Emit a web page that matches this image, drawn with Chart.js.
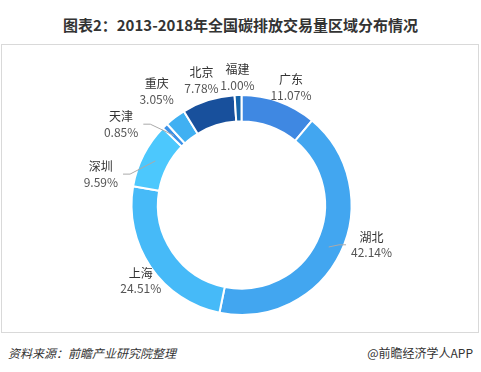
<!DOCTYPE html>
<html>
<head>
<meta charset="utf-8">
<script src="https://cdn.jsdelivr.net/npm/chart.js@4.4.0/dist/chart.umd.min.js"></script>
<style>
  html, body { margin: 0; padding: 0; background: #fff; }
  body { width: 481px; height: 372px; position: relative; overflow: hidden;
         font-family: "Noto Sans CJK SC", "Noto Sans", sans-serif; }
  #title { position: absolute; left: 0; top: 13px; width: 481px; text-align: center;
           font-size: 15px; font-weight: bold; color: #333; line-height: 24px; }
  #box { position: absolute; left: 1px; top: 44px; width: 476px; height: 287px;
         border: 1px solid #d9d9d9; }
  #box canvas { position: absolute; left: -1px; top: 0; }
  #source { position: absolute; left: 8px; top: 344px; font-size: 12px; font-style: italic; color: #333; }
  #brand { position: absolute; right: 8px; top: 344px; font-size: 12px; color: #333; }
</style>
</head>
<body>
<div id="title">图表2：2013-2018年全国碳排放交易量区域分布情况</div>
<div id="box"><canvas id="myChart" width="481" height="287"></canvas></div>
<div id="source">资料来源：前瞻产业研究院整理</div>
<div id="brand">@前瞻经济学人APP</div>
<script>
var regions = ['广东', '湖北', '上海', '深圳', '天津', '重庆', '北京', '福建'];
var shares = [11.07, 42.14, 24.51, 9.59, 0.85, 3.05, 7.78, 1.00];
var sliceColors = ['#3f88e2', '#42a6f0', '#46baf8', '#4cc8fd', '#3a91e8', '#40b0f2', '#18509c', '#1464aa'];

// label layout: angle nudge (deg), distance past the ring, leader line or not
var labelNudge = [2.8, -8.7, -2.6, -14.7, -12, 0.4, -0.2, 0];
var labelGap = [18, 26, 16, 34, 35, 32, 21, 18];
var labelLine = [false, true, false, true, true, false, false, false];

var outsideLabels = {
  id: 'outsideLabels',
  afterDatasetsDraw: function(chart) {
    var ctx = chart.ctx;
    var meta = chart.getDatasetMeta(0);
    ctx.save();
    ctx.font = '12px "Noto Sans CJK SC"';
    ctx.textAlign = 'center';
    ctx.textBaseline = 'middle';
    meta.data.forEach(function(arc, i) {
      var p = arc.getProps(['x', 'y', 'startAngle', 'endAngle', 'innerRadius', 'outerRadius'], true);
      var mid = (p.startAngle + p.endAngle) / 2;
      var a = mid + labelNudge[i] * Math.PI / 180;
      var r = p.outerRadius + labelGap[i];
      var lx = p.x + Math.cos(a) * r;
      var ly = p.y + Math.sin(a) * r;
      var pct = shares[i].toFixed(2) + '%';
      if (labelLine[i]) {
        var rr = (p.innerRadius + p.outerRadius) / 2;
        var sx = p.x + Math.cos(mid) * rr;
        var sy = p.y + Math.sin(mid) * rr;
        var half = Math.max(ctx.measureText(pct).width, ctx.measureText(regions[i]).width) / 2;
        var dir = Math.cos(a) < 0 ? 1 : -1;
        var ex = lx + dir * (half + 5);
        ctx.strokeStyle = '#aaaaaa';
        ctx.lineWidth = 1;
        ctx.beginPath();
        ctx.moveTo(sx, sy);
        ctx.lineTo(ex + dir * 7, ly);
        ctx.lineTo(ex, ly);
        ctx.stroke();
      }
      ctx.fillStyle = '#333';
      ctx.fillText(regions[i], lx, ly - 7.5);
      ctx.fillStyle = '#555';
      ctx.fillText(pct, lx, ly + 8);
    });
    ctx.restore();
  }
};

var ctx = document.getElementById('myChart').getContext('2d');
var myChart = new Chart(ctx, {
  type: 'doughnut',
  data: {
    labels: regions,
    datasets: [{
      data: shares,
      backgroundColor: sliceColors,
      borderColor: '#ffffff',
      borderWidth: 2
    }]
  },
  options: {
    responsive: false,
    animation: false,
    cutout: '76%',
    layout: { padding: { top: 49, bottom: 16 } },
    plugins: {
      legend: { display: false },
      tooltip: { enabled: false }
    }
  },
  plugins: [outsideLabels]
});
</script>
</body>
</html>
